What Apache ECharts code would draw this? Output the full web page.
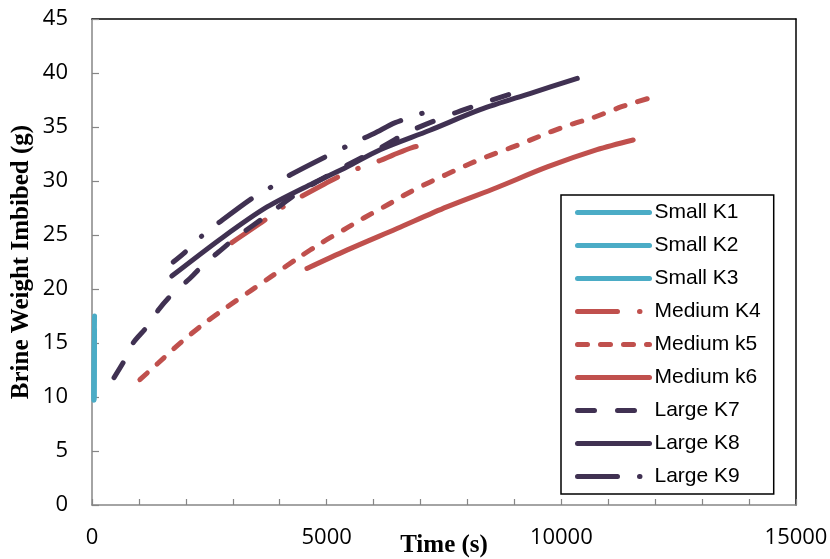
<!DOCTYPE html>
<html>
<head>
<meta charset="utf-8">
<script src="https://cdn.jsdelivr.net/npm/echarts@6/dist/echarts.min.js"></script>
<style>
html,body{margin:0;padding:0;background:#fff;}
#chart{width:830px;height:559px;}
</style>
</head>
<body>
<div id="chart"></div>
<script>
// ---- Data ----
const seriesNames = ['Small K1','Small K2','Small K3','Medium K4','Medium k5','Medium k6','Large K7','Large K8','Large K9'];

const k1Time   = [42, 45, 48, 51, 54];
const k1Weight = [9.8, 11.8, 13.6, 15.0, 16.2];
const k2Time   = [42, 45, 48, 51, 54];
const k2Weight = [10.0, 12.5, 14.5, 16.2, 17.5];
const k3Time   = [42, 45, 48, 51, 54];
const k3Weight = [9.7, 11.5, 13.0, 14.4, 15.6];

const k4Time   = [2980, 3690, 4070, 5030, 5450, 6140, 6410, 6820, 7140];
const k4Weight = [24.3, 26.4, 27.6, 29.9, 30.8, 31.9, 32.4, 33.1, 33.4];

const k5Time   = [1020, 1400, 1750, 2100, 2450, 2900, 3400, 3800, 4400, 4900, 5450, 5800, 6300, 6700, 7150, 7550, 8050, 8500, 9000, 9400, 9800, 10250, 10700, 11300, 12050];
const k5Weight = [11.6, 13.1, 14.5, 15.8, 17.0, 18.4, 19.9, 21.1, 22.9, 24.3, 25.7, 26.6, 27.8, 28.8, 29.8, 30.6, 31.6, 32.4, 33.2, 33.9, 34.6, 35.3, 35.9, 36.9, 37.9];

const k6Time   = [4580, 5430, 6500, 7560, 8630, 9700, 10760, 11530];
const k6Weight = [21.9, 23.6, 25.6, 27.6, 29.4, 31.3, 32.9, 33.8];

const k7Time   = [470, 680, 875, 1170, 1405, 1660, 2090, 2410, 2690, 3050, 3790, 4390, 5110, 5450, 6070, 6820, 7730, 8120, 9010];
const k7Weight = [11.8, 13.3, 15.0, 16.5, 18.0, 19.3, 21.0, 22.4, 23.4, 24.7, 27.0, 28.9, 30.7, 31.5, 32.9, 34.7, 36.3, 36.9, 38.2];

const k8Time   = [1700, 2790, 3730, 4710, 5430, 6140, 7200, 8270, 9330, 10340];
const k8Weight = [21.2, 24.8, 27.6, 29.8, 31.3, 32.9, 34.7, 36.6, 38.1, 39.5];

const k9Time   = [1730, 1980, 2340, 2690, 3410, 3840, 4240, 5560, 6010, 6460, 7270];
const k9Weight = [22.5, 23.4, 24.9, 26.1, 28.4, 29.5, 30.6, 33.5, 34.4, 35.4, 36.6];

const xTicks = {min: 0, max: 15000, interval: 5000};
const yTicks = {min: 0, max: 45, interval: 5};

// ---- Styles ----
const CYAN = '#4BACC6', RED = '#C0504D', DARK = '#403152';
const LW = 5;
const styles = [
  {color: CYAN, type: 'solid'},
  {color: CYAN, type: 'solid'},
  {color: CYAN, type: 'solid'},
  {color: RED,  type: [40, 22, 0.5, 22]},
  {color: RED,  type: [10, 13]},
  {color: RED,  type: 'solid'},
  {color: DARK, type: [17, 23]},
  {color: DARK, type: 'solid'},
  {color: DARK, type: [40, 22, 0.5, 22], dashOffset: 24}
];
const times   = [k1Time, k2Time, k3Time, k4Time, k5Time, k6Time, k7Time, k8Time, k9Time];
const weights = [k1Weight, k2Weight, k3Weight, k4Weight, k5Weight, k6Weight, k7Weight, k8Weight, k9Weight];

const series = seriesNames.map((name, i) => ({
  name: name,
  type: 'line',
  data: times[i].map((t, j) => [t, weights[i][j]]),
  showSymbol: false,
  symbol: 'none',
  smooth: 0.3,
  clip: false,
  z: 5,
  color: styles[i].color,
  lineStyle: {
    color: styles[i].color,
    width: LW,
    type: styles[i].type,
    dashOffset: styles[i].dashOffset || 0,
    cap: 'round',
    join: 'round'
  },
  emphasis: {disabled: true}
}));

const GRAY = '#868686';
const tickFont = {fontFamily: '"Open Sans", sans-serif', fontSize: 22, color: '#000'};
const titleFont = {fontFamily: '"Liberation Serif", "Times New Roman", serif', fontWeight: 'bold', fontSize: 25, color: '#000'};
const plainNumber = v => String(v);

const chart = echarts.init(document.getElementById('chart'), null, {renderer: 'canvas'});
chart.setOption({
  animation: false,
  backgroundColor: '#fff',
  grid: {left: 92, right: 34, top: 19, bottom: 54, containLabel: false, outerBoundsMode: 'none'},
  legend: {
    data: seriesNames,
    orient: 'vertical',
    left: 561,
    top: 195,
    padding: [7, 13, 7, 14],
    itemWidth: 72,
    itemHeight: 20,
    itemGap: 12,
    backgroundColor: '#fff',
    borderColor: '#000',
    borderWidth: 1.5,
    selectedMode: false,
    itemStyle: {color: 'rgba(0,0,0,0)', borderColor: 'rgba(0,0,0,0)', borderWidth: 0},
    lineStyle: {width: LW, cap: 'round', dashOffset: 0},
    textStyle: {fontFamily: '"Liberation Sans", Arial, sans-serif', fontSize: 21, color: '#000', lineHeight: 20}
  },
  xAxis: [{
    type: 'value',
    min: xTicks.min, max: xTicks.max, interval: xTicks.interval,
    name: 'Time (s)',
    nameLocation: 'middle',
    nameGap: 28,
    nameMoveOverlap: false,
    nameTextStyle: titleFont,
    axisLine: {show: true, lineStyle: {color: GRAY, width: 1.5}},
    axisTick: {show: true, inside: true, length: 6, lineStyle: {color: GRAY, width: 1.2}},
    minorTick: {show: true, splitNumber: 5, length: 6, lineStyle: {color: GRAY, width: 1.2}},
    axisLabel: Object.assign({margin: 22, formatter: plainNumber}, tickFont),
    splitLine: {show: false}
  }, {
    type: 'value', position: 'top',
    min: xTicks.min, max: xTicks.max,
    axisLine: {show: true, onZero: false, lineStyle: {color: '#000', width: 1.5}},
    axisTick: {show: false}, axisLabel: {show: false}, splitLine: {show: false}
  }],
  yAxis: [{
    type: 'value',
    min: yTicks.min, max: yTicks.max, interval: yTicks.interval,
    name: 'Brine Weight Imbibed (g)',
    nameLocation: 'middle',
    nameGap: 58,
    nameMoveOverlap: false,
    nameTextStyle: titleFont,
    axisLine: {show: true, lineStyle: {color: GRAY, width: 1.5}},
    axisTick: {show: true, inside: true, length: 7, lineStyle: {color: GRAY, width: 1.2}},
    axisLabel: Object.assign({margin: 24, formatter: plainNumber}, tickFont),
    splitLine: {show: false}
  }, {
    type: 'value', position: 'right',
    min: yTicks.min, max: yTicks.max,
    axisLine: {show: true, onZero: false, lineStyle: {color: '#000', width: 1.5}},
    axisTick: {show: false}, axisLabel: {show: false}, splitLine: {show: false}
  }],
  series: series
});
</script>
</body>
</html>
